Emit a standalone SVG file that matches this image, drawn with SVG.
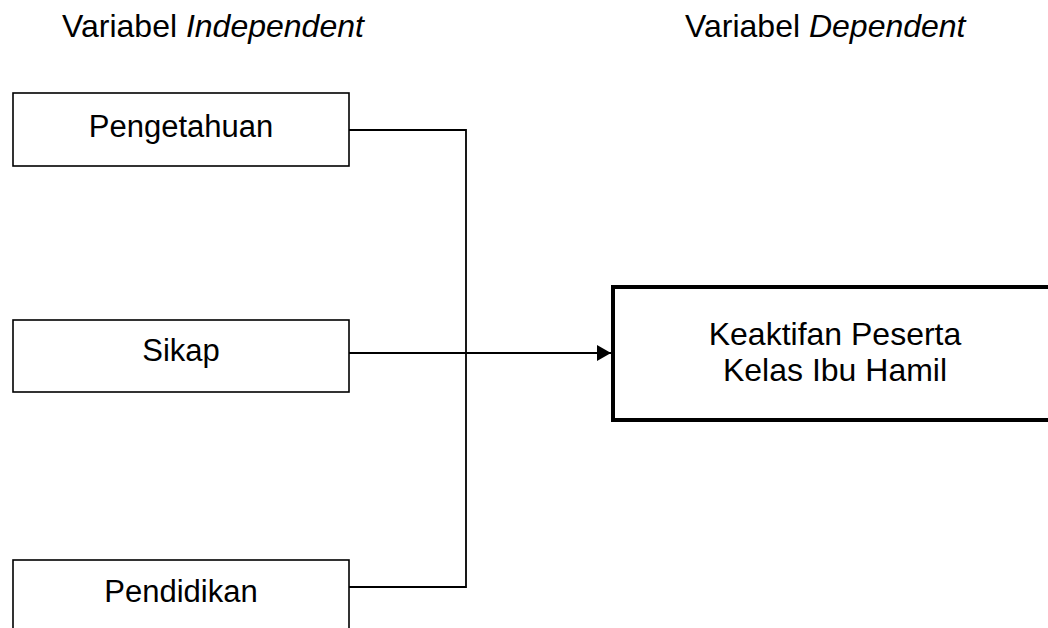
<svg xmlns="http://www.w3.org/2000/svg" width="1048" height="628" viewBox="0 0 1048 628">
<style>
text{font-family:"Liberation Sans",Arial,sans-serif;font-size:31px;fill:#000}
.hd{font-size:32px}
.box{fill:#fff;stroke:#000;stroke-width:1.6}
.main{fill:#fff;stroke:#000;stroke-width:4}
.ln{fill:none;stroke:#000;stroke-width:1.8}
</style>
<defs>
<marker id="arr" markerWidth="16" markerHeight="16" refX="14" refY="8" orient="auto" markerUnits="userSpaceOnUse">
<path d="M0,0 L14,8 L0,16 Z" fill="#000"/>
</marker>
</defs>
<rect width="1048" height="628" fill="#fff"/>
<text class="hd" x="62" y="37">Variabel <tspan font-style="italic">Independent</tspan></text>
<text class="hd" x="685" y="37">Variabel <tspan font-style="italic">Dependent</tspan></text>
<g id="connectors">
<path class="ln" d="M349,130 H466 V587 H349"/>
<path class="ln" d="M349,353 H611" marker-end="url(#arr)"/>
</g>
<g id="pengetahuan">
<rect class="box" x="13" y="93" width="336" height="73"/>
<text x="181" y="137" text-anchor="middle">Pengetahuan</text>
</g>
<g id="sikap">
<rect class="box" x="13" y="320" width="336" height="72"/>
<text x="181" y="361" text-anchor="middle">Sikap</text>
</g>
<g id="pendidikan">
<rect class="box" x="13" y="560" width="336" height="80"/>
<text x="181" y="602" text-anchor="middle">Pendidikan</text>
</g>
<g id="keaktifan">
<rect class="main" x="613" y="287" width="460" height="133"/>
<text x="835" y="345" text-anchor="middle" style="font-size:32px">Keaktifan Peserta</text>
<text x="835" y="381" text-anchor="middle" style="font-size:32px">Kelas Ibu Hamil</text>
</g>
</svg>
